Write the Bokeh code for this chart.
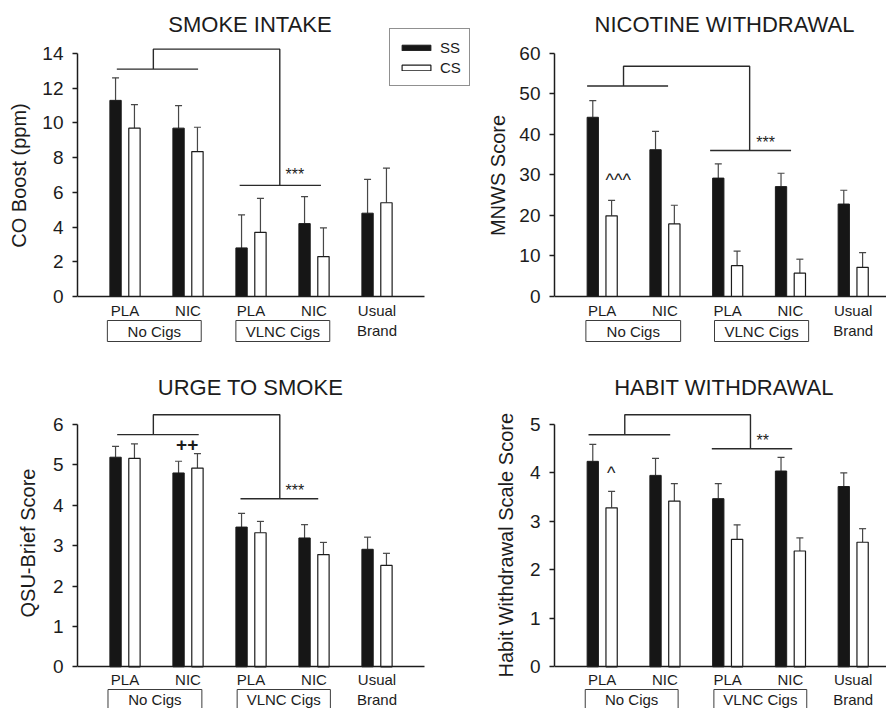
from bokeh.plotting import figure
from bokeh.models import (ColumnDataSource, Range1d, FixedTicker, Whisker, TeeHead,
                          Legend, LegendItem, Label, Title)
from bokeh.layouts import column, row
from bokeh.core.properties import value
from bokeh.embed import file_html
from bokeh.resources import INLINE

FONT = "Liberation Sans"
INK = "#1c1c1c"
ERR = "#474747"

# ---------------- data ----------------
conditions = ["PLA", "NIC", "PLA", "NIC", "Usual\nBrand"]
group_names = ["No Cigs", "VLNC Cigs"]
series_names = ["SS", "CS"]

smoke_ss = [11.3, 9.7, 2.8, 4.2, 4.8]
smoke_ss_err = [1.3, 1.3, 1.9, 1.55, 1.95]
smoke_cs = [9.7, 8.35, 3.7, 2.3, 5.4]
smoke_cs_err = [1.35, 1.4, 1.95, 1.65, 2.0]

nic_ss = [44.2, 36.2, 29.2, 27.1, 22.8]
nic_ss_err = [4.1, 4.5, 3.5, 3.3, 3.4]
nic_cs = [19.9, 17.9, 7.6, 5.75, 7.2]
nic_cs_err = [3.8, 4.6, 3.6, 3.45, 3.6]

urge_ss = [5.19, 4.80, 3.46, 3.19, 2.91]
urge_ss_err = [0.27, 0.29, 0.34, 0.33, 0.30]
urge_cs = [5.16, 4.92, 3.32, 2.78, 2.51]
urge_cs_err = [0.36, 0.36, 0.28, 0.30, 0.30]

habit_ss = [4.24, 3.95, 3.47, 4.04, 3.72]
habit_ss_err = [0.35, 0.35, 0.31, 0.28, 0.28]
habit_cs = [3.28, 3.42, 2.63, 2.39, 2.57]
habit_cs_err = [0.34, 0.36, 0.30, 0.27, 0.28]

BAR_W = 0.18
OFFSET = 0.15


def make_panel(title, title_xy, ylabel, ymax, ystep, ss, ss_err, cs, cs_err, geom,
               brackets, marks, legend_loc=None):
    frame_w = geom["w"] - geom["left"]
    frame_h = geom["h"]
    x0 = geom["x0"]
    x1 = x0 + frame_w / geom["px_x"]
    y0 = -geom["zero_px"] / geom["px_y"]
    y1 = y0 + frame_h / geom["px_y"]

    p = figure(width=geom["w"], height=geom["h"],
               x_range=Range1d(x0, x1), y_range=Range1d(y0, y1),
               output_backend="svg", toolbar_location=None,
               min_border_left=geom["left"], min_border_right=0,
               min_border_top=0, min_border_bottom=0)
    p.outline_line_color = None
    p.xgrid.visible = False
    p.ygrid.visible = False
    p.background_fill_color = "white"
    p.border_fill_color = "white"

    # panel title
    p.add_layout(Label(x=title_xy[0], y=title_xy[1], text=title,
                       text_font=FONT, text_font_size="22px", text_color=INK,
                       text_align="center", text_baseline="alphabetic"))

    # y axis
    ya = p.yaxis[0]
    ya.ticker = FixedTicker(ticks=list(range(0, ymax + ystep, ystep)))
    ya.bounds = (0, ymax)
    ya.minor_tick_line_color = None
    ya.major_tick_in = 0
    ya.major_tick_out = 5
    ya.axis_line_color = INK
    ya.axis_line_width = 1.5
    ya.major_tick_line_color = INK
    ya.major_tick_line_width = 1.5
    ya.major_label_text_font = FONT
    ya.major_label_text_font_size = "19px"
    ya.major_label_text_color = INK
    ya.major_label_standoff = 9
    if "ylab_title" in geom:
        # y label drawn beside the axis, centred on the 0..ymax span
        off, stand = geom["ylab_title"]
        p.add_layout(Title(text=ylabel, align="left", offset=off, standoff=stand,
                           vertical_align="bottom", text_font=FONT,
                           text_font_size="20px", text_font_style="normal",
                           text_color=INK), "left")
    else:
        ya.axis_label = ylabel
        ya.axis_label_text_font = FONT
        ya.axis_label_text_font_size = "20px"
        ya.axis_label_text_font_style = "normal"
        ya.axis_label_text_color = INK
        ya.axis_label_standoff = geom["lab_standoff"]

    # x axis (categories), pinned at y = 0
    n = len(conditions)
    xs = list(range(1, n + 1))
    xa = p.xaxis[0]
    xa.ticker = FixedTicker(ticks=xs)
    xa.major_label_overrides = {x: lab for x, lab in zip(xs, conditions)}
    xa.fixed_location = 0
    xa.bounds = (x0, 5.75)
    xa.minor_tick_line_color = None
    xa.major_tick_line_color = None
    xa.major_tick_in = 0
    xa.major_tick_out = 0
    xa.axis_line_color = INK
    xa.axis_line_width = 1.5
    xa.major_label_text_font = FONT
    xa.major_label_text_font_size = "15px"
    xa.major_label_text_color = INK
    xa.major_label_standoff = geom["cat_standoff"]

    # bars with upper error bars
    src_ss = ColumnDataSource(dict(x=[x - OFFSET for x in xs], top=ss,
                                   hi=[v + e for v, e in zip(ss, ss_err)]))
    src_cs = ColumnDataSource(dict(x=[x + OFFSET for x in xs], top=cs,
                                   hi=[v + e for v, e in zip(cs, cs_err)]))
    for src in (src_ss, src_cs):
        p.add_layout(Whisker(base="x", lower="top", upper="hi", source=src,
                             dimension="height", line_color=ERR, line_width=1.2,
                             lower_head=None,
                             upper_head=TeeHead(size=7, line_color=ERR, line_width=1.2)))
    r_ss = p.vbar(x="x", top="top", bottom=0, width=BAR_W, source=src_ss,
                  fill_color="#161616", line_color=INK, line_width=1)
    r_cs = p.vbar(x="x", top="top", bottom=0, width=BAR_W, source=src_cs,
                  fill_color="white", line_color=INK, line_width=1.2)

    # group boxes under the axis
    b_top = -geom["box_top_px"] / geom["px_y"]
    b_bot = -geom["box_bot_px"] / geom["px_y"]
    b_mid = -geom["box_mid_px"] / geom["px_y"]
    lefts = [g[0] for g in geom["boxes"]]
    rights = [g[1] for g in geom["boxes"]]
    p.quad(left=lefts, right=rights, top=b_top, bottom=b_bot,
           fill_color="white", line_color="#3c3c3c", line_width=1)
    p.text(x=[(a + b) / 2 for a, b in geom["boxes"]], y=[b_mid] * len(group_names),
           text=group_names, text_font=value(FONT), text_font_size="15px",
           text_align="center", text_baseline="middle", text_color=INK)

    # significance brackets
    bx, by = [], []
    for br in brackets:
        xl, xr, ytop, yl, yr, l_span, r_span = br
        bx.append([xl, xl, xr, xr]); by.append([yl, ytop, ytop, yr])
        bx.append(list(l_span)); by.append([yl, yl])
        bx.append(list(r_span)); by.append([yr, yr])
    p.multi_line(xs=bx, ys=by, line_color="#2a2a2a", line_width=1.4)

    for (tx, ty, txt, size, style, align) in marks:
        p.text(x=[tx], y=[ty], text=[txt], text_font=value(FONT),
               text_font_size=size, text_font_style=style, text_align=align,
               text_baseline="alphabetic", text_color=INK)

    if legend_loc is not None:
        leg = Legend(items=[LegendItem(label=series_names[0], renderers=[r_ss]),
                            LegendItem(label=series_names[1], renderers=[r_cs])],
                     location=legend_loc)
        leg.label_text_font = FONT
        leg.label_text_font_size = "15px"
        leg.label_text_color = INK
        leg.glyph_width = 36
        leg.glyph_height = 7
        leg.label_height = 20
        leg.label_standoff = 6
        leg.padding = 8
        leg.spacing = 0
        leg.margin = 0
        leg.border_line_color = "#222222"
        leg.border_line_width = 1
        leg.background_fill_color = "white"
        leg.background_fill_alpha = 1
        p.add_layout(leg)
    return p


geomA = dict(w=478, h=350, left=77, x0=0.246, px_x=63.0, zero_px=54,
             px_y=243 / 14, lab_standoff=9, cat_standoff=5,
             box_top_px=24, box_bot_px=45, box_mid_px=35,
             boxes=[(0.72, 2.21), (2.76, 4.25)])
geomB = dict(w=408, h=350, left=76, x0=0.24, px_x=62.75, zero_px=54,
             px_y=243.3 / 60, lab_standoff=7, cat_standoff=5,
             box_top_px=24, box_bot_px=45, box_mid_px=35,
             boxes=[(0.74, 2.25), (2.79, 4.29)])
geomC = dict(w=478, h=358, left=77, x0=0.246, px_x=63.0, zero_px=41.7,
             px_y=242.3 / 6, ylab_title=(91, 22), cat_standoff=4,
             box_top_px=22.7, box_bot_px=45, box_mid_px=33,
             boxes=[(0.73, 2.22), (2.78, 4.26)])
geomD = dict(w=408, h=358, left=76, x0=0.24, px_x=62.75, zero_px=41.7,
             px_y=242.3 / 5, ylab_title=(31, 19), cat_standoff=4,
             box_top_px=22.7, box_bot_px=45, box_mid_px=33,
             boxes=[(0.73, 2.21), (2.78, 4.26)])

# brackets: (x of left drop, x of right drop, top y, left y, right y, left span, right span)
pA = make_panel("SMOKE INTAKE", (2.984, 15.68), "CO Boost (ppm)", 14, 2,
                smoke_ss, smoke_ss_err, smoke_cs, smoke_cs_err, geomA,
                [(1.45, 3.457, 14.25, 13.1, 6.4, (0.87, 2.16), (2.82, 4.11))],
                [(3.548, 7.03, "***", "16px", "normal", "left")],
                legend_loc=(312, 264))
pB = make_panel("NICOTINE WITHDRAWAL", (2.949, 67.1), "MNWS Score", 60, 10,
                nic_ss, nic_ss_err, nic_cs, nic_cs_err, geomB,
                [(1.34, 3.35, 56.8, 51.9, 36.0, (0.76, 2.05), (2.72, 4.01))],
                [(3.454, 37.98, "***", "16px", "normal", "left"),
                 (1.053, 28.75, "^^^", "18px", "normal", "left")])
pC = make_panel("URGE TO SMOKE", (2.992, 6.91), "QSU-Brief Score", 6, 1,
                urge_ss, urge_ss_err, urge_cs, urge_cs_err, geomC,
                [(1.45, 3.457, 6.24, 5.75, 4.16, (0.876, 2.17), (2.833, 4.067))],
                [(3.548, 4.37, "***", "16px", "normal", "left"),
                 (1.987, 5.51, "++", "19px", "bold", "center")])
pD = make_panel("HABIT WITHDRAWAL", (2.941, 5.76), "Habit Withdrawal Scale Score", 5, 1,
                habit_ss, habit_ss_err, habit_cs, habit_cs_err, geomD,
                [(1.36, 3.363, 5.2, 4.79, 4.5, (0.782, 2.084), (2.747, 4.028))],
                [(3.459, 4.66, "**", "16px", "normal", "left"),
                 (1.143, 3.99, "^", "18px", "normal", "center")])

layout = column(row(pA, pB), row(pC, pD))
open("out.html", "w").write(file_html(layout, INLINE))
